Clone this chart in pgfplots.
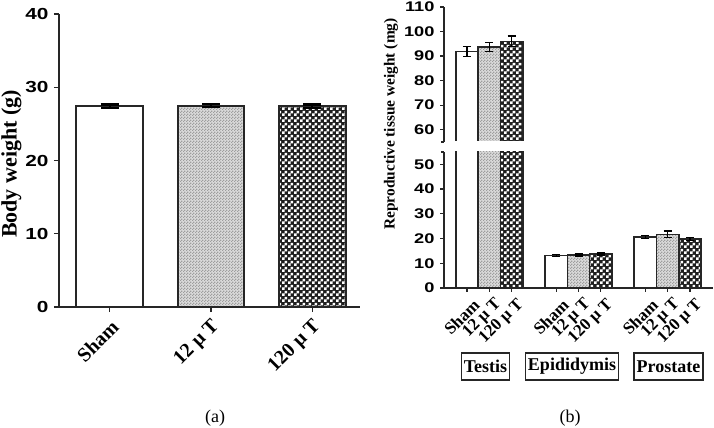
\documentclass[border=0pt]{standalone}
\usepackage{fontspec}
\setmainfont{Liberation Serif}
\newfontfamily\tickfont[FakeStretch=1.3]{Liberation Sans}
\usepackage{pgfplots}
\usepackage{pgfplotstable}
\usetikzlibrary{patterns}
\pgfplotsset{compat=1.18}

\pgfdeclarepatternformonly{mycheck}{\pgfqpoint{0bp}{0bp}}{\pgfqpoint{6bp}{6bp}}{\pgfqpoint{6bp}{6bp}}{%
 \pgfpathrectangle{\pgfqpoint{0bp}{0bp}}{\pgfqpoint{3bp}{3bp}}%
 \pgfpathrectangle{\pgfqpoint{3bp}{3bp}}{\pgfqpoint{3bp}{3bp}}%
 \pgfusepath{fill}}
\pgfdeclarepatternformonly{myfine}{\pgfqpoint{0bp}{0bp}}{\pgfqpoint{3bp}{3bp}}{\pgfqpoint{3bp}{3bp}}{%
 \pgfpathrectangle{\pgfqpoint{0bp}{0bp}}{\pgfqpoint{1.5bp}{1.5bp}}%
 \pgfpathrectangle{\pgfqpoint{1.5bp}{1.5bp}}{\pgfqpoint{1.5bp}{1.5bp}}%
 \pgfusepath{fill}}

\pgfplotstableread{
x y e
0 27.4 0.25
}\shamA
\pgfplotstableread{
x y e
1 27.5 0.25
}\lowA
\pgfplotstableread{
x y e
2 27.4 0.25
}\highA

\pgfplotstableread{
x y e
0 91.8 2.0
4 13.1 0.4
8 20.6 0.7
}\shamB
\pgfplotstableread{
x y e
1 93.6 1.8
5 13.3 0.4
9 21.7 1.3
}\lowB
\pgfplotstableread{
x y e
2 96.0 2.2
6 13.7 0.4
10 19.9 0.6
}\highB

\definecolor{ax}{gray}{0.15}

\pgfplotsset{
  common/.style={
    scale only axis, anchor=south west,
    axis line style={line width=1.5bp, ax, -},
    tick style={line width=1.3bp, ax},
    tick align=outside,
    /pgf/number format/assume math mode=true,
    ybar, 
  },
  shamstyle/.style={fill=white, draw=ax, bar shift=0pt},
  lowstyle/.style={fill=black!14, draw=ax, bar shift=0pt, postaction={pattern=myfine, pattern color=black!38}},
  highstyle/.style={fill=black!88, draw=ax, bar shift=0pt, postaction={pattern=mycheck, pattern color=white}},
  errA/.style={error bars/y dir=both, error bars/y explicit,
     error bars/error bar style={line width=2.2bp, black},
     error bars/error mark options={rotate=90, mark size=9bp, line width=2.2bp, black}},
  errB/.style={error bars/y dir=both, error bars/y explicit,
     error bars/error bar style={line width=1.3bp, black},
     error bars/error mark options={rotate=90, mark size=4bp, line width=1.3bp, black}},
}

\begin{document}
\begin{tikzpicture}
\path[use as bounding box] (0bp,0bp) rectangle (714bp,428bp);

% ---------- panel (a)
\begin{axis}[common,
  at={(59bp,121bp)}, width=301bp, height=293bp,
  axis lines*=left,
  xmin=-0.5, xmax=2.47, ymin=0, ymax=40,
  ytick={0,10,20,30,40},
  xtick={0,1,2}, xticklabels={Sham,12 μ T,120 μ T},
  major tick length=5bp,
  bar width=0.66,
  yticklabel style={font=\tickfont\fontsize{16bp}{18bp}\selectfont\bfseries, xshift=-2bp},
  xticklabel style={font=\fontsize{20bp}{22bp}\selectfont\bfseries, rotate=45, anchor=east, xshift=-1bp, yshift=-12bp},
  ylabel={Body weight (g)},
  ylabel style={font=\fontsize{22bp}{24bp}\selectfont\bfseries, at={(axis description cs:-0.158,0.488)}, anchor=center, rotate=0},
]
\addplot[shamstyle, line width=2bp, errA] table[x=x, y=y, y error=e] {\shamA};
\addplot[lowstyle, line width=2bp, errA] table[x=x, y=y, y error=e] {\lowA};
\addplot[highstyle, line width=2bp, errA] table[x=x, y=y, y error=e] {\highA};
\end{axis}

% ---------- panel (b) lower
\begin{axis}[common,
  at={(444bp,140bp)}, width=269bp, height=136bp,
  axis x line*=bottom, axis y line*=left,
  xmin=-1.03, xmax=11.03, ymin=0, ymax=55,
  ytick={0,10,20,30,40,50},
  extra y ticks={55}, extra y tick labels={},
  extra y tick style={major tick length=3bp},
  xtick={0,1,2,4,5,6,8,9,10},
  xticklabels={Sham,12 μ T,120 μ T,Sham,12 μ T,120 μ T,Sham,12 μ T,120 μ T},
  major tick length=4bp,
  bar width=1,
  yticklabel style={font=\tickfont\fontsize{14bp}{16bp}\selectfont\bfseries, xshift=-2bp},
  xticklabel style={font=\fontsize{17bp}{19bp}\selectfont\bfseries, rotate=45, anchor=east, xshift=3bp, yshift=-14bp},
]
\addplot[shamstyle, line width=1.6bp, errB] table[x=x, y=y, y error=e] {\shamB};
\addplot[lowstyle, line width=1.6bp, errB] table[x=x, y=y, y error=e] {\lowB};
\addplot[highstyle, line width=1.6bp, errB] table[x=x, y=y, y error=e] {\highB};
\end{axis}

% ---------- panel (b) upper
\begin{axis}[common,
  at={(444bp,286bp)}, width=269bp, height=135bp,
  axis x line=none, axis y line*=left,
  xmin=-1.03, xmax=11.03, ymin=55, ymax=110,
  ytick={60,70,80,90,100,110},
  extra y ticks={55}, extra y tick labels={},
  extra y tick style={major tick length=3bp},
  xtick=\empty,
  major tick length=4bp,
  bar width=1,
  yticklabel style={font=\tickfont\fontsize{14bp}{16bp}\selectfont\bfseries, xshift=-2bp},
]
\addplot[shamstyle, line width=1.6bp, restrict y to domain=55:200, errB] table[x=x, y=y, y error=e] {\shamB};
\addplot[lowstyle, line width=1.6bp, restrict y to domain=55:200, errB] table[x=x, y=y, y error=e] {\lowB};
\addplot[highstyle, line width=1.6bp, restrict y to domain=55:200, errB] table[x=x, y=y, y error=e] {\highB};
\end{axis}
% hide the bottom edges of the clipped upper bars (axis break)
\fill[white] (445.5bp,285.3bp) rectangle (714bp,287.1bp);

\node[rotate=90, font=\fontsize{15.4bp}{17bp}\selectfont\bfseries] at (391bp,304bp) {Reproductive tissue weight (mg)};

\begin{scope}[every node/.style={draw=ax, line width=1.6bp, font=\fontsize{18bp}{20bp}\selectfont\bfseries, minimum height=27bp, inner xsep=2.5bp, inner ysep=0pt}]
\node at (485.5bp,61.5bp) {Testis};
\node at (572bp,61.5bp) {Epididymis};
\node at (668.5bp,61.5bp) {Prostate};
\end{scope}

\node[font=\fontsize{18bp}{20bp}\selectfont] at (215bp,10bp) {(a)};
\node[font=\fontsize{18bp}{20bp}\selectfont] at (570bp,10bp) {(b)};
\end{tikzpicture}
\end{document}
